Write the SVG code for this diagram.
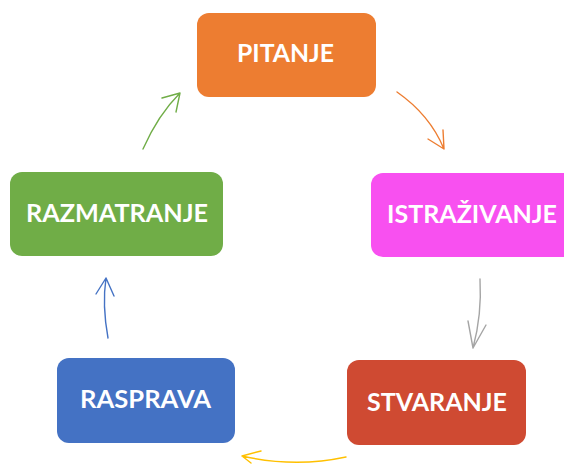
<svg xmlns="http://www.w3.org/2000/svg" width="564" height="464" viewBox="0 0 564 464">
<style>
.box{stroke:none}
.lbl{font-family:Lato,"Open Sans","Liberation Sans",sans-serif;font-weight:bold;font-size:24px;fill:#fff}
.c{fill:none;stroke-width:1.4;stroke-linecap:round;stroke-linejoin:round}
</style>
<rect width="564" height="464" fill="#fff"/>
<g id="pitanje">
<rect class="box" x="197" y="13" width="179" height="84" rx="12" fill="#ED7D31"/>
<text class="lbl" x="237" y="62" textLength="97" lengthAdjust="spacingAndGlyphs">PITANJE</text>
</g>
<g id="istrazivanje">
<rect class="box" x="371" y="173" width="205" height="84" rx="12" fill="#F850F0"/>
<text class="lbl" x="387" y="223" textLength="170" lengthAdjust="spacingAndGlyphs">ISTRAŽIVANJE</text>
</g>
<g id="stvaranje">
<rect class="box" x="347" y="360" width="179" height="85" rx="12" fill="#CF4A32"/>
<text class="lbl" x="367" y="411" textLength="140" lengthAdjust="spacingAndGlyphs">STVARANJE</text>
</g>
<g id="rasprava">
<rect class="box" x="57" y="358" width="178" height="85" rx="12" fill="#4472C4"/>
<text class="lbl" x="80" y="408" textLength="131" lengthAdjust="spacingAndGlyphs">RASPRAVA</text>
</g>
<g id="razmatranje">
<rect class="box" x="10" y="172" width="213" height="84" rx="12" fill="#70AD47"/>
<text class="lbl" x="26" y="222" textLength="182" lengthAdjust="spacingAndGlyphs">RAZMATRANJE</text>
</g>
<g id="connectors">
<path class="c" stroke="#ED7D31" d="M397,92 Q430,115 444,149 M443,130 L444,149 L428,139"/>
<path class="c" stroke="#A5A5A5" d="M480,279 Q482,315 473,348 M468,321 L473,348 L486,325"/>
<path class="c" stroke="#FFC000" d="M346,457 Q295,468 242,456 M261,451 L242,456 L251,463"/>
<path class="c" stroke="#4472C4" d="M108,338 Q102,305 106,278 M96,294 L106,278 L114,296"/>
<path class="c" stroke="#70AD47" d="M143,149 Q158,115 180,93 M162,98 L180,93 L176,112"/>
</g>
</svg>
